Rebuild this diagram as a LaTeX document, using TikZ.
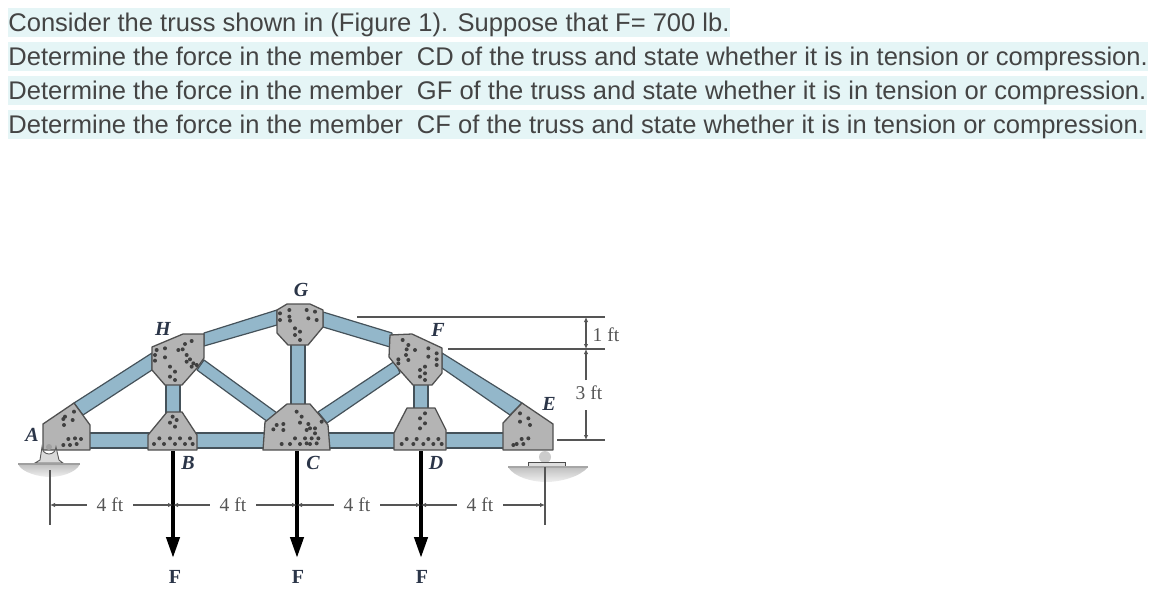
\documentclass[tikz,border=0pt]{standalone}
\usepackage{fontspec}
\setmainfont{Liberation Sans}
\newfontfamily\serifcap{Liberation Serif}
\usetikzlibrary{arrows.meta}
\definecolor{hl}{HTML}{E5F5F6}
\definecolor{txt}{HTML}{444444}
\definecolor{steel}{HTML}{93B7CA}
\definecolor{edgec}{HTML}{45525A}
\definecolor{plate}{HTML}{B4B4B4}
\definecolor{plateedge}{HTML}{505050}
\definecolor{lab}{HTML}{2B3548}
\definecolor{dimc}{HTML}{555555}
\tikzset{
  qline/.style={anchor=west,inner xsep=0.6pt,inner ysep=0pt,fill=hl,text=txt,text height=23pt,text depth=6pt,font=\fontsize{25.53}{27}\selectfont},
  member/.style={fill=steel,draw=edgec,line width=1.2pt,line join=round},
  gusset/.style={fill=plate,draw=plateedge,line width=1.3pt,line join=round},
  letter/.style={text=lab,inner sep=0pt,font=\serifcap\bfseries\itshape\fontsize{20}{21}\selectfont},
  dimtext/.style={text=dimc,inner sep=0pt,font=\serifcap\fontsize{19.5}{20}\selectfont},
  forcetext/.style={text=lab,inner sep=0pt,font=\serifcap\bfseries\fontsize{20}{21}\selectfont},
  dimline/.style={draw=dimc,line width=1.1pt},
  dimarrow/.style={dimline,-{Latex[length=5pt,width=4.5pt]}},
  force/.style={draw=black,line width=4.2pt,-{Triangle[length=21pt,width=13pt]}},
  refline/.style={draw=dimc,line width=1.5pt},
  ground/.style={top color=gray!50,bottom color=gray!12,draw=none},
}
\newcommand{\rivetsL}[1]{\foreach \u/\v in {#1}{\fill[black!75] ({\u/3},{270+\v/3}) circle (2);}}
\newcommand{\rivetsR}[1]{\foreach \u/\v in {#1}{\fill[black!75] ({300+\u/3},{270+\v/3}) circle (2);}}
\begin{document}
\begin{tikzpicture}[x=1pt,y=-1pt]
\useasboundingbox (0,0) rectangle (1155,592);
\node[qline] (q1) at (7.6,22.5) {Consider the truss shown in (Figure 1). Suppose that F= 700 lb.};
\node[qline] (q2) at (7.6,56.5) {Determine the force in the member\ \ CD of the truss and state whether it is in tension or compression.};
\node[qline] (q3) at (7.6,90.5) {Determine the force in the member\ \ GF of the truss and state whether it is in tension or compression.};
\node[qline] (q4) at (7.6,124.5) {Determine the force in the member\ \ CF of the truss and state whether it is in tension or compression.};

% supports
\shade[ground] (18,464) -- (80,464) .. controls (76,473) and (60,477) .. (50,477) .. controls (40,477) and (22,473) .. (18,464) -- cycle;
\shade[ground] (508,467) -- (588,467) .. controls (580,477) and (560,482) .. (546,482) .. controls (532,482) and (514,477) .. (508,467) -- cycle;
\fill[gray!40] (545,457) circle (6);
\draw[draw=gray!60!black,line width=0.9pt,fill=gray!25] (528,462) rectangle (565,467);
\draw[draw=gray!70,line width=1.2pt] (508,467) -- (588,467);

% extension lines
\coordinate (dT) at (605,317); \coordinate (dM) at (605,349); \coordinate (dB) at (605,440);
\draw[refline] (357,317) -- (dT);
\draw[refline] (448,349) -- (dM);
\draw[refline] (557,440) -- (dB);
\draw[dimline] (50,470) -- (50,525);
\draw[dimline] (545,467) -- (545,525);

% members
\draw[member] (60,433) rectangle (530,448);
\draw[member] (74,403) -- (152,353) -- (152,370) -- (83,415) -- cycle;
\draw[member] (204,333) -- (277,310) -- (277,325) -- (204,346) -- cycle;
\draw[member] (323,312) -- (392,333) -- (390,347) -- (323,327) -- cycle;
\draw[member] (442,353) -- (522,403) -- (510,415) -- (442,368) -- cycle;
\draw[member] (204,360) -- (277,413) -- (268,422) -- (197,370) -- cycle;
\draw[member] (395,361) -- (318,412) -- (327,423) -- (400,373) -- cycle;
\draw[member] (166,380) rectangle (180,415);
\draw[member] (291,340) rectangle (305,408);
\draw[member] (414,380) rectangle (428,412);

% gusset plates
\draw[gusset] (43,424) -- (74,403) -- (90,425) -- (90,450) -- (43,450) -- cycle;
\draw[gusset] (152,347) -- (183,334) -- (204,334) -- (204,358) -- (197,368) -- (182,385) -- (165,385) -- (152,370) -- cycle;
\draw[gusset] (277,310) -- (287,304) -- (310,304) -- (323,310) -- (323,327) -- (308,345) -- (288,345) -- (277,333) -- cycle;
\draw[gusset] (167,412) -- (182,412) -- (197,435) -- (197,450) -- (148,450) -- (148,435) -- cycle;
\draw[gusset] (265,422) -- (287,404) -- (310,404) -- (328,425) -- (330,450) -- (263,450) -- cycle;
\draw[gusset] (407,408) -- (435,408) -- (446,430) -- (446,450) -- (394,450) -- (394,433) -- cycle;
\draw[gusset] (503,423) -- (522,403) -- (553,424) -- (553,450) -- (503,450) -- cycle;
\draw[gusset] (390,335) -- (412,334) -- (442,348) -- (442,373) -- (432,385) -- (413,385) -- (397,367) -- (389,357) -- cycle;

% pin support at A, in front of the plate
\draw[draw=gray!70!black,line width=0.9pt,fill=gray!30] (35,463) -- (40,460) -- (42,447) arc (180:0:7) -- (59,460) -- (63,463) -- cycle;
\fill[gray!75] (49,447) circle (3);
\draw[draw=gray!75,line width=1.3pt] (18,464) -- (80,464);

% rivets
\rivetsL{195/440,222/425,218/450,192/465,190/447,205/507,225/505,243/507,190/525,210/525,230/522}
\rivetsL{575/213,555/222,535/240,548/238,470/240,495/235,465/255,495/262,465/272,560/255,570/268,580/280,560/275,575/290,590/285,510/290,525/305,510/320,525/330}
\rivetsL{868/120,868/140,840/130,840/150,870/152,920/120,945/125,925/145,950/150,885/175,900/185,885/195,900/210}
\rivetsL{518/440,530/450,510/458,525/470,478/505,510/505,540/505,570/505,462/522,492/522,525/522,555/522,578/522}
\rivetsL{890/425,905/440,900/458,850/462,830/465,850/480,820/478,925/462,945/475,920/480,845/522,870/522,900/522,885/505,930/522,915/505}
\rivetsR{30/475,45/490,55/505,35/505,20/520,50/520,65/455}
\rivetsR{308/210,325/225,345/240,320/238,295/268,318/255,325/270,295/280,385/235,385/260,410/250,410/268,410/285,375/290,360/300,375/310,360/320,375/330}
\rivetsR{375/430,360/445,375/460,360/475,320/507,350/507,385/507,415/507,305/522,340/522,370/522,400/522,425/522}
\rivetsR{660/430,685/445,660/455,690/465,665/507,685/505,650/522,670/522,640/525}

% joint letters
\node[letter] (lA) at (32,435) {A};
\node[letter] (lB) at (188,463) {B};
\node[letter] (lC) at (313,463) {C};
\node[letter] (lD) at (436,463) {D};
\node[letter] (lE) at (549,404) {E};
\node[letter] (lF) at (438,330) {F};
\node[letter] (lG) at (301,290) {G};
\node[letter] (lH) at (163,329) {H};

% forces
\coordinate (fB) at (173,451); \coordinate (fC) at (297,451); \coordinate (fD) at (421,451);
\node[forcetext] (F1) at (175,577) {F};
\node[forcetext] (F2) at (298,577) {F};
\node[forcetext] (F3) at (422,577) {F};
\draw[force] (fB) -- (173,558);
\draw[force] (fC) -- (297,558);
\draw[force] (fD) -- (421,558);

% horizontal dimensions
\coordinate (t0) at (50,505); \coordinate (t1) at (173,505); \coordinate (t2) at (297,505); \coordinate (t3) at (421,505); \coordinate (t4) at (545,505);
\node[dimtext] (d1) at (110,505) {4 ft};
\node[dimtext] (d2) at (233,505) {4 ft};
\node[dimtext] (d3) at (357,505) {4 ft};
\node[dimtext] (d4) at (480,505) {4 ft};
\foreach \a/\b/\d in {t0/t1/d1,t1/t2/d2,t2/t3/d3,t3/t4/d4}{
  \draw[dimarrow] (\d.west) ++(-10,0) -- (\a);
  \draw[dimarrow] (\d.east) ++(10,0) -- (\b);
}

% vertical dimensions
\coordinate (vT) at (586,317); \coordinate (vM) at (586,349); \coordinate (vB) at (586,440);
\node[dimtext] (d5) at (606,335) {1 ft};
\node[dimtext] (d6) at (589,393) {3 ft};
\draw[dimarrow] (586,333) -- (vT);
\draw[dimarrow] (586,333) -- (vM);
\draw[dimarrow] (586,380) -- (vM);
\draw[dimarrow] (586,410) -- (vB);
\end{tikzpicture}
\end{document}
